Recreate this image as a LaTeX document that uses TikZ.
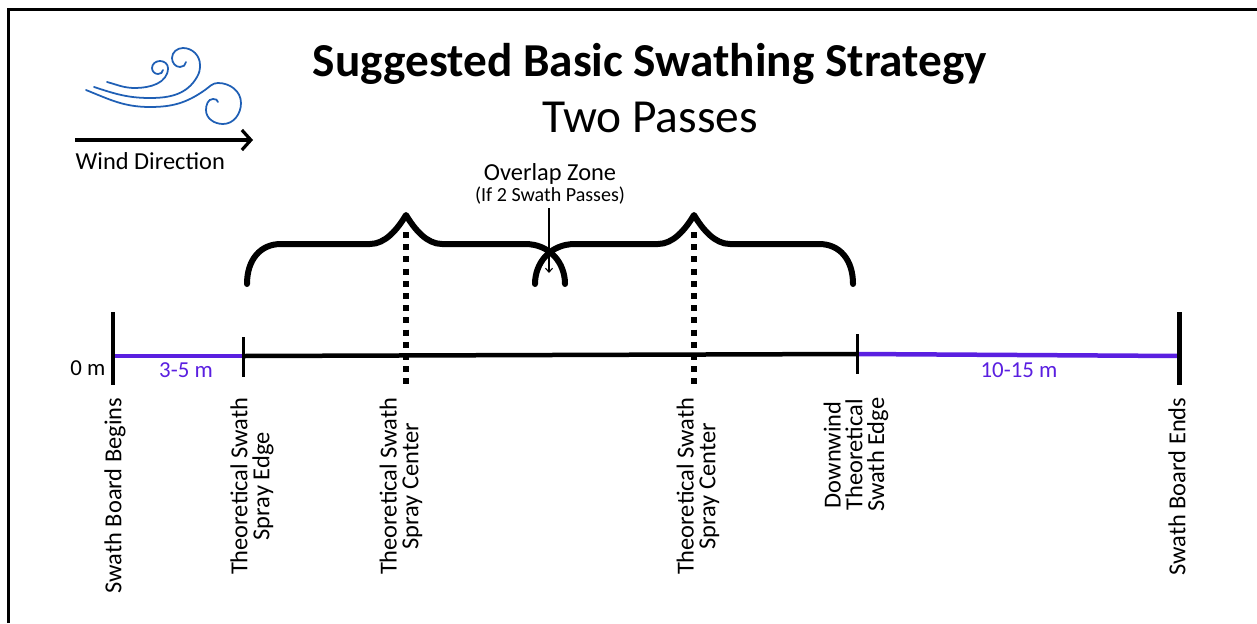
\documentclass[tikz,border=0pt]{standalone}
\usepackage{fontspec}
\setmainfont{Carlito}
\usetikzlibrary{arrows.meta}
\definecolor{windblue}{HTML}{1F5FB5}
\definecolor{bufferviolet}{HTML}{5A1FE0}
\tikzset{
    titlelabel/.style={font=\fontsize{13.45}{15}\selectfont\bfseries},
    sublabel/.style={font=\fontsize{13.5}{15}\selectfont},
    smalllabel/.style={font=\fontsize{6.95}{6.2}\selectfont},
    tinylabel/.style={font=\fontsize{5.7}{6}\selectfont},
    distlabel/.style={font=\fontsize{6.5}{7}\selectfont,inner sep=0pt},
    sidelabel/.style={smalllabel,rotate=90,anchor=east,align=center,inner sep=0pt},
    windline/.style={windblue,line width=0.5pt,line cap=round},
    bufferline/.style={bufferviolet,line width=0.045cm},
    bigtick/.style={line width=0.045cm},
    smalltick/.style={line width=0.03cm},
    braceline/.style={line width=0.06cm,line cap=round,line join=round},
    centerline/.style={line width=0.06cm,dash pattern=on 0.06cm off 0.062cm}
}
\begin{document}
\begin{tikzpicture}
    \useasboundingbox (0,0) rectangle (12.57,6.23);
    % frame
    \draw [line width=0.03cm] (0.09,0) -- (0.09,6.13) -- (12.57,6.13);
    \node[titlelabel] (title) at (6.5,5.59) {Suggested Basic Swathing Strategy};
    \node[sublabel] (passes) at (6.5,5.06) {Two Passes};
    % wind
    \draw[windline] (1.07,5.41) to[out=-15,in=180] (1.35,5.35) to[out=0,in=-90] (1.68,5.55) to[out=90,in=0] (1.60,5.62) to[out=180,in=90] (1.52,5.55) to[out=-90,in=180] (1.58,5.49) to[out=0,in=-90] (1.63,5.53);
    \draw[windline] (0.94,5.36) to[out=-18,in=180] (1.50,5.25) to[out=0,in=240] (1.97,5.46) to[out=60,in=-90] (2.00,5.58) to[out=90,in=0] (1.83,5.75) to[out=180,in=90] (1.72,5.65) to[out=-90,in=180] (1.80,5.56) to[out=0,in=-90] (1.86,5.61);
    \draw[windline] (0.86,5.33) to[out=-22,in=180] (1.50,5.16) to[out=0,in=215] (2.05,5.33) to[out=35,in=180] (2.18,5.40) to[out=0,in=90] (2.41,5.20) to[out=-90,in=0] (2.23,4.99) to[out=180,in=-90] (2.06,5.13) to[out=90,in=180] (2.13,5.24) to[out=0,in=90] (2.18,5.21);
    \coordinate (windstart) at (0.75,4.83);
    \coordinate (windend) at (2.53,4.83);
    \draw[-{Straight Barb[length=0.09cm,width=0.2cm]},line width=0.032cm] (windstart) -- (windend);
    \node[smalllabel,anchor=west,inner sep=0pt] (windlabel) at (0.75,4.62) {Wind Direction};
    % swath board
    \coordinate (begin) at (1.13,2.67);
    \coordinate (edge) at (2.435,2.67);
    \coordinate (downwind) at (8.57,2.69);
    \coordinate (end) at (11.795,2.67);
    \draw[bufferline] (begin) -- (edge);
    \draw[bufferline] (downwind) -- (end);
    \draw[line width=0.045cm] (edge) -- (downwind);
    \draw[bigtick] (1.13,3.11) -- (1.13,2.38);
    \draw[smalltick] (2.435,2.86) -- (2.435,2.46);
    \draw[smalltick] (8.57,2.89) -- (8.57,2.49);
    \draw[bigtick] (11.795,3.11) -- (11.795,2.38);
    \node[distlabel,anchor=east] (zero) at (1.06,2.55) {0 m};
    \node[distlabel,bufferviolet] (nearbuffer) at (1.86,2.53) {3-5 m};
    \node[distlabel,bufferviolet] (farbuffer) at (10.19,2.53) {10-15 m};
    % centers
    \draw[centerline] (4.06,3.91) -- (4.06,2.39);
    \draw[centerline] (6.94,3.91) -- (6.94,2.39);
    % braces
    \draw[braceline] (2.47,3.39) .. controls (2.47,3.63) and (2.60,3.79) .. (2.81,3.79) -- (3.70,3.79) .. controls (3.85,3.79) and (3.97,3.93) .. (4.06,4.08) .. controls (4.15,3.93) and (4.27,3.79) .. (4.42,3.79) -- (5.25,3.79) .. controls (5.50,3.79) and (5.65,3.60) .. (5.65,3.39);
    \draw[braceline] (5.35,3.39) .. controls (5.35,3.60) and (5.50,3.79) .. (5.75,3.79) -- (6.58,3.79) .. controls (6.73,3.79) and (6.85,3.93) .. (6.94,4.08) .. controls (7.03,3.93) and (7.15,3.79) .. (7.30,3.79) -- (8.19,3.79) .. controls (8.40,3.79) and (8.53,3.63) .. (8.53,3.39);
    % overlap
    \node[smalllabel,inner sep=0pt] (overlap) at (5.5,4.49) {Overlap Zone};
    \node[tinylabel,inner sep=0pt] (ifpasses) at (5.5,4.27) {(If 2 Swath Passes)};
    \coordinate (overlaptip) at (5.49,3.50);
    \draw[-{Straight Barb[length=0.04cm,width=0.07cm]},line width=0.3pt] (ifpasses.south -| overlaptip) ++(0,-0.03) coordinate (overlapstart) (overlapstart) -- (overlaptip);
    % labels
    \node[sidelabel] (beginlabel) at (1.15,2.26) {Swath Board Begins};
    \node[sidelabel] (edgelabel) at (2.52,2.26) {Theoretical Swath\\Spray Edge};
    \node[sidelabel] (firstcenter) at (4.01,2.26) {Theoretical Swath\\Spray Center};
    \node[sidelabel] (secondcenter) at (6.98,2.26) {Theoretical Swath\\Spray Center};
    \node[sidelabel] (downwindlabel) at (8.56,2.26) {Downwind\\Theoretical\\Swath Edge};
    \node[sidelabel] (endlabel) at (11.77,2.26) {Swath Board Ends};
\end{tikzpicture}
\end{document}
